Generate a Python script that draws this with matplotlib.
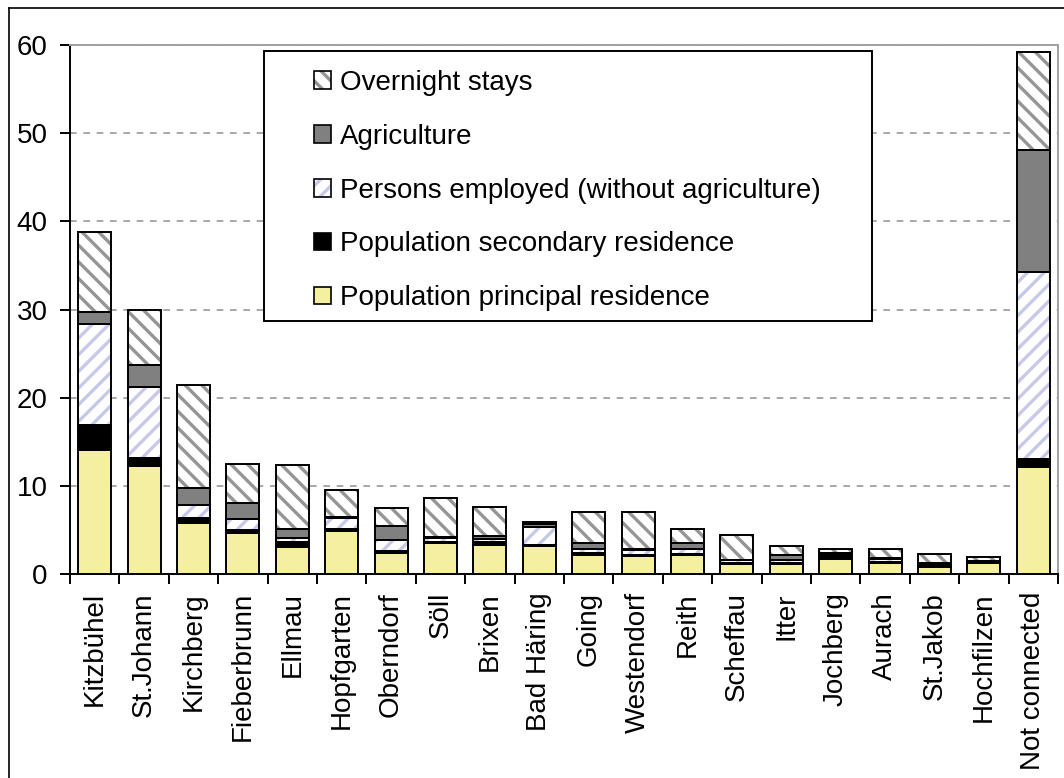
import matplotlib
matplotlib.use("Agg")
import matplotlib.pyplot as plt
import numpy as np
from matplotlib.patches import Patch, Rectangle
from matplotlib.lines import Line2D
from matplotlib.legend_handler import HandlerTuple

plt.rcParams['font.family'] = ['Liberation Sans', 'DejaVu Sans']
plt.rcParams['hatch.linewidth'] = 2.4

categories = ["Kitzbühel", "St.Johann", "Kirchberg", "Fieberbrunn", "Ellmau",
              "Hopfgarten", "Oberndorf", "Söll", "Brixen", "Bad Häring",
              "Going", "Westendorf", "Reith", "Scheffau", "Itter",
              "Jochberg", "Aurach", "St.Jakob", "Hochfilzen", "Not connected"]

principal = [14.1, 12.3, 5.8, 4.7, 3.1, 4.9, 2.4, 3.5, 3.3, 3.2,
             2.2, 2.0, 2.1, 1.1, 1.1, 1.7, 1.3, 0.8, 1.2, 12.1]
secondary = [2.8, 0.9, 0.6, 0.3, 0.5, 0.2, 0.2, 0.1, 0.35, 0.05,
             0.15, 0.2, 0.2, 0.15, 0.15, 0.5, 0.1, 0.4, 0.1, 0.95]
persons = [11.5, 8.0, 1.4, 1.2, 0.5, 1.3, 1.3, 0.5, 0.35, 2.1,
           0.45, 0.5, 0.5, 0.3, 0.3, 0.05, 0.35, 0.05, 0.15, 21.2]
agriculture = [1.3, 2.5, 2.0, 1.8, 1.0, 0.1, 1.5, 0.05, 0.3, 0.3,
               0.7, 0.1, 0.75, 0.05, 0.65, 0.1, 0.05, 0.05, 0.05, 13.8]
overnight = [9.1, 6.2, 11.6, 4.5, 7.3, 3.0, 2.1, 4.5, 3.3, 0.2,
             3.5, 4.2, 1.55, 2.8, 1.0, 0.5, 1.05, 1.0, 0.45, 11.2]

yticks = [0, 10, 20, 30, 40, 50, 60]

series = [
    ("Population principal residence", principal, "#f4f0a0", None, None),
    ("Population secondary residence", secondary, "#000000", None, None),
    ("Persons employed (without agriculture)", persons, "#ffffff", "//", "#c8c8ea"),
    ("Agriculture", agriculture, "#808080", None, None),
    ("Overnight stays", overnight, "#ffffff", "\\\\", "#959595"),
]

FS = 20
W, H = 1064, 778
fig = plt.figure(figsize=(W / 100, H / 100), dpi=100)
fig.patch.set_facecolor("white")
ax = fig.add_axes([70 / W, 1 - 574 / H, (1058 - 70) / W, (574 - 45) / H])

x = np.arange(len(categories))
width = 0.67
bottom = np.zeros(len(categories))
edge_lw = 1.4

handles = {}
for label, vals, color, hatch, hcolor in series:
    vals = np.array(vals)
    if hatch:
        ax.bar(x, vals, width, bottom=bottom, color=color, hatch=hatch,
               edgecolor=hcolor, linewidth=0, zorder=2)
        ax.bar(x, vals, width, bottom=bottom, fill=False,
               edgecolor="black", linewidth=edge_lw, zorder=3)
        handles[label] = (Patch(facecolor=color, hatch=hatch, edgecolor=hcolor, linewidth=0),
                          Patch(fill=False, edgecolor="black", linewidth=1.2))
    else:
        ax.bar(x, vals, width, bottom=bottom, color=color,
               edgecolor="black", linewidth=edge_lw, zorder=3)
        handles[label] = (Patch(facecolor=color, edgecolor="black", linewidth=1.2),)
    bottom += vals

ax.set_xlim(-0.5, len(categories) - 0.5)
ax.set_ylim(0, 60)
ax.set_yticks(yticks)
ax.set_yticklabels([str(v) for v in yticks], fontsize=FS)
ax.yaxis.grid(True, linestyle=(0, (4, 4)), color="#999999", linewidth=1.2, zorder=0)
ax.set_axisbelow(True)

ax.set_xticks(x)
ax.set_xticklabels(categories, rotation=90, fontsize=FS, va="top")
ax.set_xticks(np.arange(len(categories) + 1) - 0.5, minor=True)
ax.tick_params(axis="x", which="major", length=0, pad=13)
ax.tick_params(axis="x", which="minor", length=7, width=1.4, direction="out")
ax.tick_params(axis="y", which="major", length=7, width=1.4, direction="out", pad=9)

for side in ("left", "bottom"):
    ax.spines[side].set_color("black")
    ax.spines[side].set_linewidth(1.4)
for side in ("top", "right"):
    ax.spines[side].set_color("#a0a0a0")
    ax.spines[side].set_linewidth(1.4)

# legend box
fig.patches.append(Rectangle((264 / W, 1 - 321 / H), (872 - 264) / W, (321 - 51) / H,
                             transform=fig.transFigure, facecolor="white",
                             edgecolor="black", linewidth=1.4, zorder=5))

order = ["Overnight stays", "Agriculture", "Persons employed (without agriculture)",
         "Population secondary residence", "Population principal residence"]
leg = fig.legend([handles[k] for k in order], order,
                 handler_map={tuple: HandlerTuple(ndivide=1, pad=0)},
                 loc="upper left", bbox_to_anchor=(314 / W, 1 - 70 / H),
                 bbox_transform=fig.transFigure, frameon=False, fontsize=FS,
                 handlelength=0.6, handleheight=0.6, handletextpad=0.35,
                 labelspacing=1.0, borderpad=0, borderaxespad=0)
leg.set_zorder(6)

# outer frame
fig.add_artist(Line2D([9 / W, 9 / W], [0, 1 - 8 / H], transform=fig.transFigure,
                      color="black", linewidth=1.2))
fig.add_artist(Line2D([9 / W, 1], [1 - 8 / H, 1 - 8 / H], transform=fig.transFigure,
                      color="black", linewidth=1.2))

fig.savefig("out.png", dpi=100)
